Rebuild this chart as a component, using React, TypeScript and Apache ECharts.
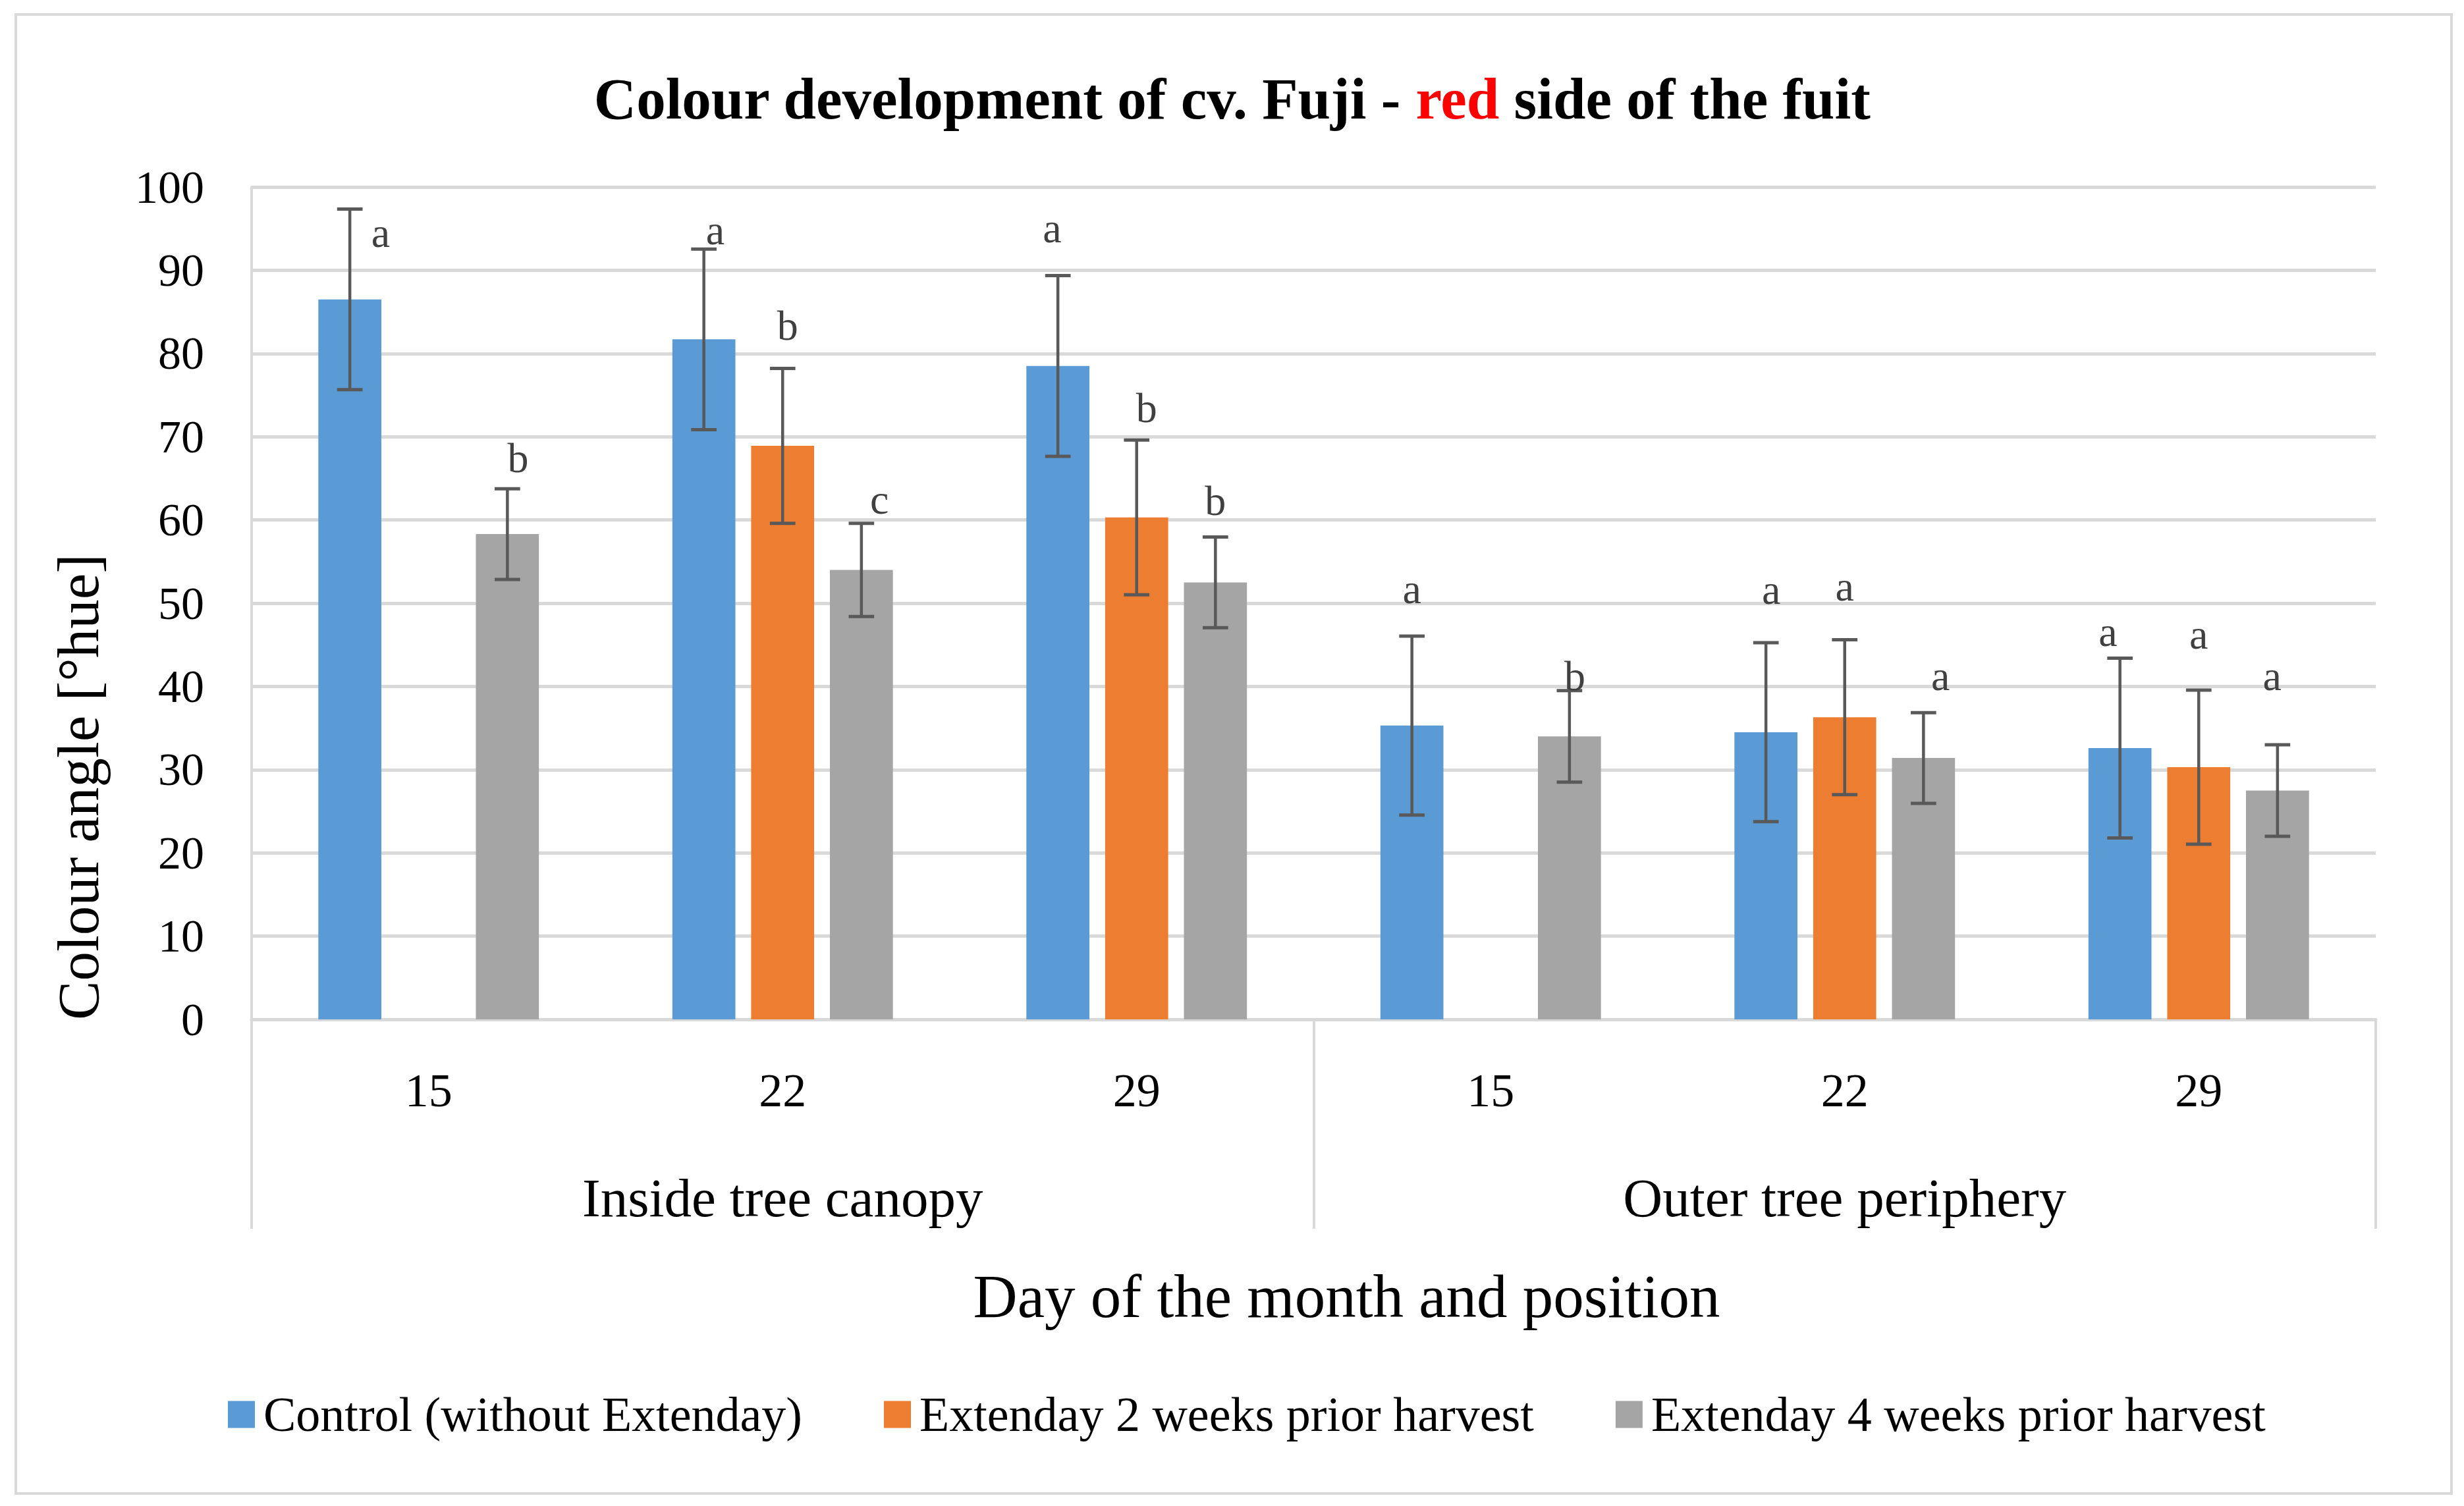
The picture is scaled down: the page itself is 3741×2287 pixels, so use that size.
import React, { useEffect, useRef } from 'react';
import * as echarts from 'echarts';

const dayLabels = ['15', '22', '29', '15', '22', '29'];
const positionLabels = ['Inside tree canopy', 'Outer tree periphery'];
const seriesNames = [
  'Control (without Extenday)',
  'Extenday 2 weeks prior harvest',
  'Extenday 4 weeks prior harvest',
];
const yAxisTitle = 'Colour angle [°hue]';
const xAxisTitle = 'Day of the month and position';
const controlValues = [86.5, 81.7, 78.5, 35.3, 34.5, 32.6];
const controlErrors = [10.85, 10.85, 10.85, 10.75, 10.75, 10.8];
const ext2Values = [null, 68.9, 60.3, null, 36.3, 30.3];
const ext2Errors = [null, 9.3, 9.3, null, 9.3, 9.25];
const ext4Values = [58.3, 54.0, 52.5, 34.0, 31.4, 27.5];
const ext4Errors = [5.45, 5.6, 5.45, 5.5, 5.45, 5.5];
const controlLetters = ['a', 'a', 'a', 'a', 'a', 'a'];
const ext2Letters = [null, 'b', 'b', null, 'a', 'a'];
const ext4Letters = ['b', 'c', 'b', 'b', 'a', 'a'];
// baseline of each letter, in axis units
const controlLetterY = [93.1, 93.4, 93.6, 50.3, 50.2, 45.1];
const ext2LetterY = [null, 81.9, 72.0, null, 50.6, 44.8];
const ext4LetterY = [66.0, 61.0, 60.9, 39.8, 39.8, 39.8];

// horizontal nudge of the letters, as a fraction of a category band
const controlShift = [0.087, 0.032, -0.016, 0, 0.015, -0.034];
const ext2Shift = [0, 0.014, 0.028, 0, 0, 0];
const ext4Shift = [0.03, 0.051, 0, 0.015, 0.048, -0.015];

const COLORS = ['#5B9BD5', '#ED7D31', '#A5A5A5'];
const FONT = '"Liberation Serif", "Times New Roman", serif';

const allValues = [controlValues, ext2Values, ext4Values];
const allErrors = [controlErrors, ext2Errors, ext4Errors];
const allLetters = [controlLetters, ext2Letters, ext4Letters];
const allLetterY = [controlLetterY, ext2LetterY, ext4LetterY];
const allShift = [controlShift, ext2Shift, ext4Shift];

type Rec = { si: number; cat: number; value: number; err: number; letter: string; ly: number; shift: number };

export default function App() {
  const ref = useRef<HTMLDivElement>(null);
  useEffect(() => {
    if (!ref.current) return;
    const chart = echarts.init(ref.current, undefined, { renderer: 'svg' });

    const records: Rec[] = [];
    allValues.forEach((vals, si) => {
      vals.forEach((v, cat) => {
        if (v == null) return;
        records.push({
          si,
          cat,
          value: v as number,
          err: allErrors[si][cat] as number,
          letter: allLetters[si][cat] as string,
          ly: allLetterY[si][cat] as number,
          shift: allShift[si][cat] as number,
        });
      });
    });

    const barSeries = seriesNames.map((name, si) => ({
      name,
      type: 'bar',
      data: allValues[si],
      barWidth: '17.8%',
      barGap: '25%',
      itemStyle: { color: COLORS[si] },
      xAxisIndex: 0,
      yAxisIndex: 0,
    }));

    const option: any = {
      animation: false,
      backgroundColor: '#ffffff',
      title: {
        text: '{b|Colour development of cv. Fuji - }{r|red}{b| side of the fuit}',
        left: 'center',
        top: 100,
        textStyle: {
          rich: {
            b: { fontFamily: FONT, fontWeight: 'bold', fontSize: 89, color: '#000' },
            r: { fontFamily: FONT, fontWeight: 'bold', fontSize: 89, color: '#FF0000' },
          },
        },
      },
      legend: {
        data: seriesNames,
        top: 2106,
        left: 341,
        icon: 'rect',
        itemWidth: 41,
        itemHeight: 41,
        itemGap: 124,
        textStyle: { fontFamily: FONT, fontSize: 74, color: '#000', padding: [0, 0, 0, 8] },
      },
      grid: { left: 382, right: 134, top: 284, bottom: 739 },
      xAxis: [
        {
          type: 'category',
          data: dayLabels,
          position: 'bottom',
          axisLine: { lineStyle: { color: '#d9d9d9', width: 5 } },
          axisTick: { show: false },
          axisLabel: { margin: 72, fontSize: 72, color: '#000', fontFamily: FONT },
          name: xAxisTitle,
          nameLocation: 'middle',
          nameGap: 374,
          nameTextStyle: { fontSize: 93, color: '#000', fontFamily: FONT, padding: [0, 0, 0, 100] },
        },
        {
          type: 'category',
          data: positionLabels,
          position: 'bottom',
          axisLine: { show: false },
          axisTick: { show: true, length: 318, interval: 0, lineStyle: { color: '#d9d9d9', width: 4 } },
          axisLabel: { margin: 229, fontSize: 83, color: '#000', fontFamily: FONT, interval: 0 },
          splitLine: { show: false },
        },
      ],
      yAxis: {
        type: 'value',
        min: 0,
        max: 100,
        interval: 10,
        axisLine: { show: true, lineStyle: { color: '#d9d9d9', width: 4 } },
        axisTick: { show: false },
        splitLine: { lineStyle: { color: '#d9d9d9', width: 5 } },
        axisLabel: { margin: 72, fontSize: 70, color: '#000', fontFamily: FONT },
      },
      series: [
        ...barSeries,
        {
          type: 'custom',
          xAxisIndex: 0,
          yAxisIndex: 0,
          z: 10,
          clip: false,
          encode: { x: 0, y: 1 },
          data: records.map((r) => [r.cat, r.value]),
          renderItem: (params: any, api: any) => {
            const rec = records[params.dataIndex];
            const band = api.size([1, 0])[0];
            const c = api.coord([rec.cat, rec.value]);
            const cx = c[0] + (rec.si - 1) * band * 0.2225;
            const yTop = api.coord([rec.cat, rec.value + rec.err])[1];
            const yBot = api.coord([rec.cat, rec.value - rec.err])[1];
            const cap = band * 0.036;
            const ly = api.coord([rec.cat, rec.ly])[1];
            const lx = cx + rec.shift * band;
            const stroke = '#595959';
            return {
              type: 'group',
              children: [
                { type: 'line', shape: { x1: cx, y1: yTop, x2: cx, y2: yBot }, style: { stroke, lineWidth: 4.5 } },
                { type: 'line', shape: { x1: cx - cap, y1: yTop, x2: cx + cap, y2: yTop }, style: { stroke, lineWidth: 5 } },
                { type: 'line', shape: { x1: cx - cap, y1: yBot, x2: cx + cap, y2: yBot }, style: { stroke, lineWidth: 5 } },
                {
                  type: 'text',
                  x: lx,
                  y: ly + 14,
                  style: {
                    text: rec.letter,
                    fill: '#404040',
                    fontSize: 64,
                    fontFamily: FONT,
                    align: 'center',
                    verticalAlign: 'bottom',
                  },
                },
              ],
            };
          },
        },
      ],
      graphic: [
        {
          type: 'rect',
          silent: true,
          shape: { x: 24, y: 22, width: 3698, height: 2246 },
          style: { fill: 'none', stroke: '#d9d9d9', lineWidth: 4 },
        },
        {
          type: 'text',
          silent: true,
          x: 119,
          y: 1195,
          rotation: Math.PI / 2,
          style: {
            text: yAxisTitle,
            fontSize: 89,
            fontFamily: FONT,
            fill: '#000',
            align: 'center',
            verticalAlign: 'middle',
          },
        },
      ],
    };
    chart.setOption(option);
    return () => chart.dispose();
  }, []);
  return <div ref={ref} style={{ position: 'absolute', left: 0, top: 0, width: 3741, height: 2287 }} />;
}
